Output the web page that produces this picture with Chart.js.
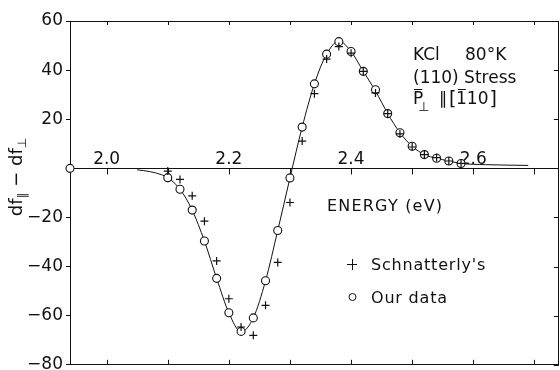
<!DOCTYPE html>
<html>
<head>
<meta charset="utf-8">
<script src="https://cdn.jsdelivr.net/npm/chart.js@4.4.0/dist/chart.umd.min.js"></script>
<style>
  html, body { margin: 0; padding: 0; overflow: hidden; background: #fff; }
  canvas { display: block; }
</style>
</head>
<body>
<canvas id="c" width="564" height="370"></canvas>
<script>
const FONT = '"DejaVu Sans", "Liberation Sans", sans-serif';
const INK = '#111';

// Photon energy (eV) and df_par - df_perp, our measurements
const energyOurs = [2.10, 2.12, 2.14, 2.16, 2.18, 2.20, 2.22, 2.24, 2.26, 2.28, 2.30,
                    2.32, 2.34, 2.36, 2.38, 2.40, 2.42, 2.44, 2.46, 2.48, 2.50,
                    2.52, 2.54, 2.56, 2.58];
const dfOurs = [-3.8, -8.5, -17.0, -29.6, -44.8, -58.8, -66.4, -60.9, -45.8, -25.3, -3.9,
                16.8, 34.4, 46.5, 51.6, 47.6, 39.5, 32.0, 22.3, 14.5, 9.0,
                5.6, 4.1, 3.0, 2.0];

// Open marker sitting on the energy axis at the left frame
const energyOrigin = [1.94];
const dfOrigin = [0];

// Schnatterly's values at the same energies
const energySchnatterly = [2.10, 2.12, 2.14, 2.16, 2.18, 2.20, 2.22, 2.24, 2.26, 2.28, 2.30,
                           2.32, 2.34, 2.36, 2.38, 2.40, 2.42, 2.44, 2.46, 2.48, 2.50,
                           2.52, 2.54, 2.56, 2.58];
const dfSchnatterly = [-1.1, -4.5, -11.2, -21.5, -37.7, -53.1, -64.6, -68.0, -55.8, -38.3, -13.9,
                       11.1, 30.4, 44.5, 49.6, 46.9, 39.5, 30.7, 22.3, 14.0, 8.7,
                       5.6, 4.4, 3.0, 2.0];

// Smooth curve through the measurements
const energyFit = [2.05, 2.07, 2.09, 2.10, 2.12, 2.14, 2.16, 2.18, 2.20, 2.22, 2.24,
                   2.26, 2.28, 2.30, 2.32, 2.34, 2.36, 2.38, 2.40, 2.42, 2.44, 2.46,
                   2.48, 2.50, 2.52, 2.54, 2.56, 2.58, 2.62, 2.69];
const dfFit = [-0.6, -1.3, -2.6, -3.8, -8.5, -17.0, -29.6, -44.8, -58.8, -66.6, -60.9,
               -45.8, -25.3, -3.9, 16.8, 34.4, 46.5, 51.8, 47.6, 39.5, 31.5, 22.3,
               14.5, 9.0, 5.6, 4.1, 3.0, 2.0, 1.5, 1.2];

// Axis ticks
const energyTicks = [2.0, 2.1, 2.2, 2.3, 2.4, 2.5, 2.6, 2.7];
const energyLabelValues = [2.0, 2.2, 2.4, 2.6];
const energyLabelTexts = ['2.0', '2.2', '2.4', '2.6'];
const dfTicks = [60, 40, 20, 0, -20, -40, -60, -80];

const toPoints = (xs, ys) => xs.map((x, i) => ({ x, y: ys[i] }));

// Frame, energy axis along df = 0, and tick marks
const framePlugin = {
  id: 'frame',
  beforeDatasetsDraw(chart) {
    const { ctx, chartArea: a, scales: { x, y } } = chart;
    const y0 = Math.round(y.getPixelForValue(0)) + 0.5;
    ctx.save();
    ctx.strokeStyle = INK;
    ctx.lineWidth = 1;
    ctx.beginPath();
    // top, bottom and right borders
    ctx.moveTo(a.left, Math.round(a.top) + 0.5); ctx.lineTo(a.right, Math.round(a.top) + 0.5);
    ctx.moveTo(a.left, Math.round(a.bottom) - 0.5); ctx.lineTo(a.right, Math.round(a.bottom) - 0.5);
    ctx.moveTo(Math.round(a.right) - 0.5, a.top); ctx.lineTo(Math.round(a.right) - 0.5, a.bottom);
    // energy axis
    ctx.moveTo(a.left, y0); ctx.lineTo(a.right, y0);
    energyTicks.forEach(v => {
      const px = Math.round(x.getPixelForValue(v)) + 0.5;
      ctx.moveTo(px, a.top); ctx.lineTo(px, a.top + 4);
      ctx.moveTo(px, a.bottom); ctx.lineTo(px, a.bottom - 5);
      ctx.moveTo(px, y0); ctx.lineTo(px, y0 + 6);
    });
    dfTicks.forEach(v => {
      if (v === 0) return;
      const py = Math.round(y.getPixelForValue(v)) + 0.5;
      ctx.moveTo(a.right, py); ctx.lineTo(a.right - 5, py);
    });
    ctx.stroke();

    ctx.fillStyle = INK;
    ctx.font = '17px ' + FONT;
    ctx.textAlign = 'center';
    ctx.textBaseline = 'alphabetic';
    energyLabelValues.forEach((v, i) => {
      ctx.fillText(energyLabelTexts[i], x.getPixelForValue(v), y0 - 5);
    });
    ctx.restore();
  }
};

// Texts: axis titles, sample note and key
const notesPlugin = {
  id: 'notes',
  afterDraw(chart) {
    const { ctx } = chart;
    ctx.save();
    ctx.fillStyle = INK;
    ctx.strokeStyle = INK;
    ctx.lineWidth = 1;
    ctx.textBaseline = 'alphabetic';
    ctx.textAlign = 'left';

    // energy title
    ctx.font = '16px ' + FONT;
    ctx.letterSpacing = '1.2px';
    ctx.fillText('ENERGY (eV)', 327, 211);

    // key
    ctx.letterSpacing = '0.8px';
    ctx.beginPath();
    ctx.moveTo(347, 264.5); ctx.lineTo(357, 264.5);
    ctx.moveTo(352.5, 259); ctx.lineTo(352.5, 270);
    ctx.stroke();
    ctx.fillText("Schnatterly's", 371, 270);
    ctx.beginPath();
    ctx.arc(352.5, 297, 3.5, 0, Math.PI * 2);
    ctx.stroke();
    ctx.fillText('Our data', 371, 303);
    ctx.letterSpacing = '0px';

    // sample note
    ctx.font = '17px ' + FONT;
    ctx.fillText('KCl', 413, 60);
    ctx.fillText('80°K', 465, 60);
    ctx.fillText('(110) Stress', 413, 83);
    // P with bar, perpendicular subscript, parallel, [1-bar 1 0]
    const cx = 413;
    const base3 = 104;
    ctx.fillText('P', cx, base3);
    const pw = ctx.measureText('P').width;
    ctx.beginPath();
    ctx.moveTo(cx + 1, 89.5); ctx.lineTo(cx + pw - 1, 89.5);
    ctx.stroke();
    ctx.font = '13px ' + FONT;
    ctx.fillText('⊥', cx + pw - 5, base3 + 7);
    ctx.font = '17px ' + FONT;
    ctx.fillText('∥', 439, base3);
    ctx.font = '19px ' + FONT;
    ctx.fillText('[', 449, base3 + 1);
    ctx.font = '17px ' + FONT;
    const bx = 456;
    ctx.fillText('1', bx, base3);
    const ow = ctx.measureText('1').width;
    ctx.beginPath();
    ctx.moveTo(bx + 2, 89.5); ctx.lineTo(bx + ow - 1, 89.5);
    ctx.stroke();
    ctx.fillText('10', bx + ow, base3);
    const tw = ctx.measureText('10').width;
    ctx.font = '19px ' + FONT;
    ctx.fillText(']', bx + ow + tw + 1, base3 + 1);

    // y title: df_par - df_perp, rotated
    ctx.translate(22, 177);
    ctx.rotate(-Math.PI / 2);
    const big = '18px ' + FONT, small = '12px ' + FONT;
    const parts = [
      { t: 'df', f: big, dy: 0 },
      { t: '∥', f: small, dy: 4 },
      { t: ' − ', f: big, dy: 0 },
      { t: 'df', f: big, dy: 0 },
      { t: '⊥', f: small, dy: 4 }
    ];
    let total = 0;
    parts.forEach(p => { ctx.font = p.f; p.w = ctx.measureText(p.t).width; total += p.w; });
    let px = -total / 2;
    parts.forEach(p => { ctx.font = p.f; ctx.fillText(p.t, px, p.dy); px += p.w; });
    ctx.restore();
  }
};

new Chart(document.getElementById('c'), {
  type: 'scatter',
  data: {
    datasets: [
      {
        label: "Schnatterly's",
        data: toPoints(energySchnatterly, dfSchnatterly),
        pointStyle: 'cross',
        pointRadius: 4,
        borderColor: INK,
        borderWidth: 1.2,
        showLine: false,
        order: 0,
        clip: false
      },
      {
        label: 'Our data',
        data: toPoints(energyOurs, dfOurs).concat(toPoints(energyOrigin, dfOrigin)),
        pointStyle: 'circle',
        pointRadius: 4,
        backgroundColor: '#fff',
        borderColor: INK,
        borderWidth: 1.1,
        showLine: false,
        order: 1,
        clip: false
      },
      {
        label: 'fit',
        data: toPoints(energyFit, dfFit),
        showLine: true,
        pointRadius: 0,
        borderColor: INK,
        borderWidth: 1,
        cubicInterpolationMode: 'monotone',
        order: 2,
        clip: false
      }
    ]
  },
  options: {
    responsive: false,
    animation: false,
    events: [],
    layout: { padding: { left: 0, top: 21, right: 2, bottom: 4 } },
    plugins: { legend: { display: false }, tooltip: { enabled: false } },
    scales: {
      x: {
        type: 'linear',
        min: 1.94,
        max: 2.74,
        display: false
      },
      y: {
        type: 'linear',
        min: -80,
        max: 60,
        position: 'left',
        afterFit(scale) {
          scale.width = 70;
          scale.paddingTop = 0;
          scale.paddingBottom = 0;
        },
        afterBuildTicks(scale) {
          scale.ticks = dfTicks.map(v => ({ value: v }));
        },
        ticks: {
          color: INK,
          font: { family: FONT, size: 17 },
          padding: 3,
          callback: v => v === 0 ? '' : (v < 0 ? '−' + Math.abs(v) : String(v))
        },
        grid: {
          drawOnChartArea: false,
          drawTicks: true,
          tickLength: 4,
          color: INK
        },
        border: { display: true, color: INK, width: 1 }
      }
    }
  },
  plugins: [framePlugin, notesPlugin]
});
</script>
</body>
</html>
